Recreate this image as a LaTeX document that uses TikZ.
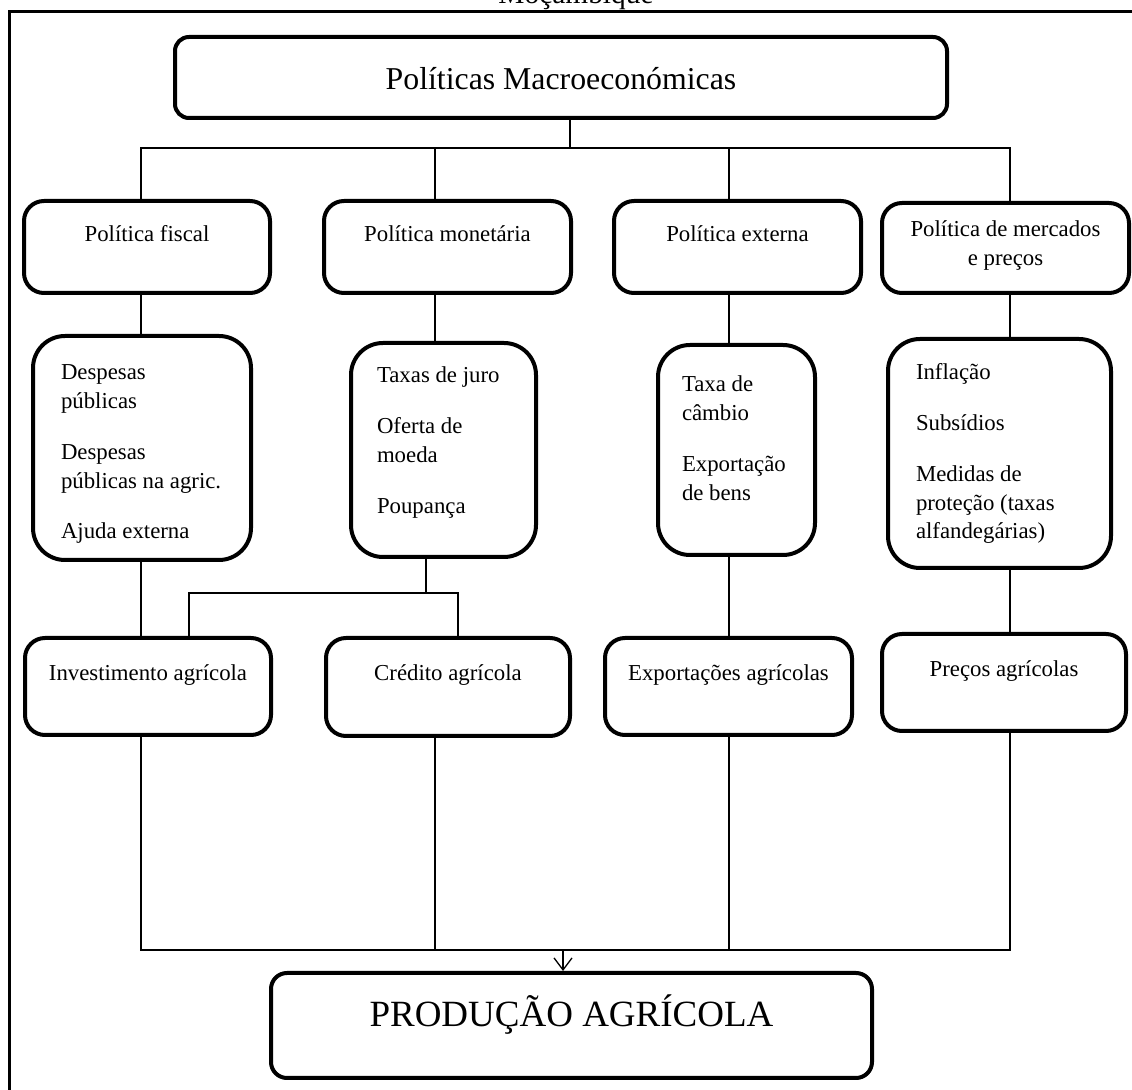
\documentclass[tikz,border=0pt]{standalone}
\usepackage{fontspec}
\setmainfont{Liberation Serif}
\usetikzlibrary{arrows.meta}
\newcommand{\boxtext}[5]{\parbox[c][#2][t]{#1}{#4\rule{0pt}{#3}#5}}

\begin{document}
\begin{tikzpicture}[x=0.5pt, y=-0.5pt,
    box/.style={draw, line width=2pt, rounded corners=10pt, inner sep=0pt, font=\fontsize{11.4pt}{14.35pt}\selectfont},
    items/.style={box, rounded corners=16pt},
    link/.style={line width=0.65pt},
    >={Straight Barb[length=6pt, width=9pt]}]
  \useasboundingbox (0,0) rectangle (1132,1090);
  \draw[line width=1.5pt] (9,1100) -- (9,12) -- (1140,12);
  \node[anchor=base, font=\fontsize{14.7pt}{17pt}\selectfont] (caption) at (576,4) {Moçambique};

  \node[box, rounded corners=7pt, font=\fontsize{15.9pt}{19pt}\selectfont] (macro) at (561,77.5) {\boxtext{386pt}{40.5pt}{26.5pt}{\centering}{Políticas Macroeconómicas}};

  \node[box] (fiscal) at (147,247) {\boxtext{123pt}{46pt}{20.5pt}{\centering}{Política fiscal}};
  \node[box] (monetaria) at (447.5,247) {\boxtext{123.5pt}{46pt}{20.5pt}{\centering}{Política monetária}};
  \node[box] (externa) at (737.5,247) {\boxtext{123.5pt}{46pt}{20.5pt}{\centering}{Política externa}};
  \node[box] (mercados) at (1005.5,248) {\boxtext{123.5pt}{45pt}{17pt}{\centering}{Política de mercados\\ e preços}};

  \node[items] (despesas) at (142,448) {\boxtext{109pt}{112pt}{22pt}{\raggedright\leftskip14pt}{Despesas\\ públicas\\[11pt] Despesas\\ públicas na agric.\\[11pt] Ajuda externa}};
  \node[items] (juros) at (443.5,450) {\boxtext{92.5pt}{107pt}{20pt}{\raggedright\leftskip13pt}{Taxas de juro\\[11pt] Oferta de\\ moeda\\[11pt] Poupança}};
  \node[items] (cambio) at (736.5,450) {\boxtext{78.5pt}{105pt}{23.5pt}{\raggedright\leftskip12pt}{Taxa de\\ câmbio\\[11pt] Exportação\\ de bens}};
  \node[items] (inflacao) at (999.5,453.5) {\boxtext{111.5pt}{114.5pt}{20.5pt}{\raggedright\leftskip14pt}{Inflação\\[11pt] Subsídios\\[11pt] Medidas de\\ proteção (taxas\\ alfandegárias)}};

  \node[box] (invest) at (148,686.5) {\boxtext{123pt}{48.5pt}{21.5pt}{\centering}{Investimento agrícola}};
  \node[box] (credito) at (448,687) {\boxtext{122pt}{49pt}{21.5pt}{\centering}{Crédito agrícola}};
  \node[box] (exportacoes) at (728.5,686.5) {\boxtext{123.5pt}{48.5pt}{21.5pt}{\centering}{Exportações agrícolas}};
  \node[box] (precos) at (1004,682.5) {\boxtext{122pt}{48.5pt}{21.5pt}{\centering}{Preços agrícolas}};

  \node[box, rounded corners=8pt, font=\fontsize{18.5pt}{22pt}\selectfont] (producao) at (571.5,1025.5) {\boxtext{300.5pt}{52.5pt}{27pt}{\centering}{PRODUÇÃO AGRÍCOLA}};

  \coordinate (k0) at (570,0);
  \coordinate (k1) at (141,0);
  \coordinate (k2) at (435,0);
  \coordinate (k3) at (729,0);
  \coordinate (k4) at (1010,0);
  \coordinate (k5) at (189,0);
  \coordinate (k6) at (458,0);
  \coordinate (bus) at (0,148);
  \coordinate (split) at (426,593);
  \coordinate (join) at (563,950);

  \draw[link] (macro.south -| k0) -- (k0 |- bus);
  \draw[link] (k1 |- fiscal.north) -- (k1 |- bus) -- (k4 |- bus) -- (k4 |- mercados.north);
  \draw[link] (k2 |- bus) -- (k2 |- monetaria.north);
  \draw[link] (k3 |- bus) -- (k3 |- externa.north);
  \foreach \a/\b/\k in {fiscal/despesas/k1, monetaria/juros/k2, externa/cambio/k3, mercados/inflacao/k4}
    \draw[link] (\k |- \a.south) -- (\k |- \b.north);
  \foreach \a/\b/\k in {despesas/invest/k1, cambio/exportacoes/k3, inflacao/precos/k4}
    \draw[link] (\k |- \a.south) -- (\k |- \b.north);
  \draw[link] (juros.south -| split) -- (split);
  \draw[link] (k5 |- invest.north) -- (k5 |- split) -- (k6 |- split) -- (k6 |- credito.north);
  \draw[link] (k1 |- invest.south) -- (k1 |- join) -- (k4 |- join) -- (k4 |- precos.south);
  \draw[link] (k2 |- credito.south) -- (k2 |- join);
  \draw[link] (k3 |- exportacoes.south) -- (k3 |- join);
  \draw[link, ->] (join) -- (join |- producao.north);
\end{tikzpicture}
\end{document}
